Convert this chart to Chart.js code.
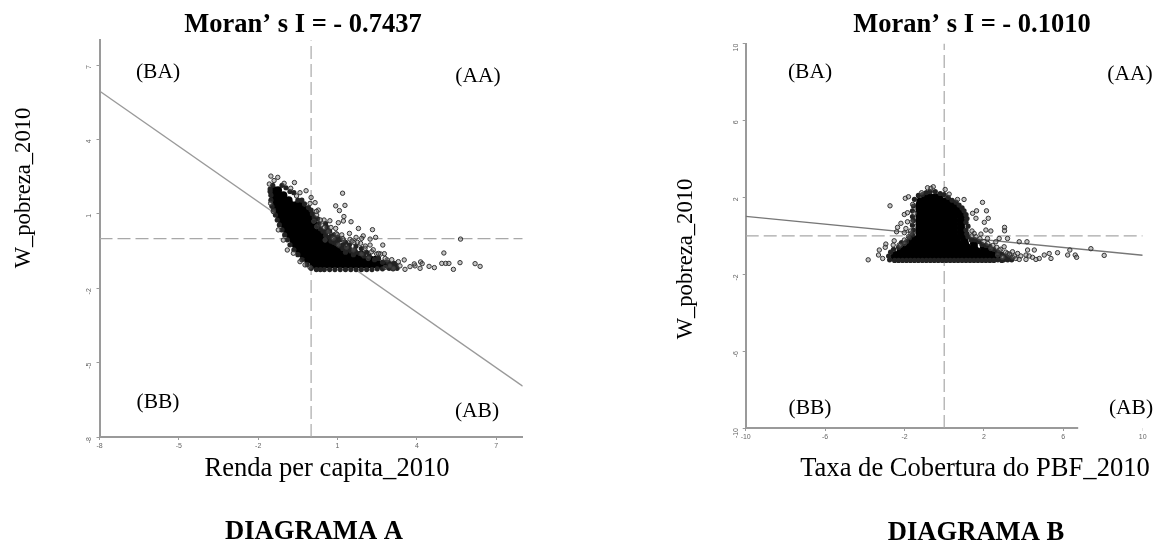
<!DOCTYPE html>
<html>
<head>
<meta charset="utf-8">
<style>
  html, body { margin: 0; padding: 0; background: #fff; }
  canvas { position: absolute; top: 0; }
</style>
</head>
<body>
<canvas id="diagramaA" width="577" height="545" style="left:0"></canvas>
<canvas id="diagramaB" width="578" height="545" style="left:577px"></canvas>
<script src="https://cdn.jsdelivr.net/npm/chart.js@4"></script>
<script>
const ticksA = [-8, -5, -2, 1, 4, 7];
const ticksB = [-10, -6, -2, 2, 6, 10];
const moranA = -0.7437;
const moranB = -0.1010;

// parte densa da nuvem: uma linha por valor de y
const nucleoA_y = [1.95, 1.75, 1.55, 1.35, 1.15, 0.95, 0.75, 0.55, 0.35, 0.15, -0.05, -0.25, -0.45, -0.65, -0.85, -1.05];
const nucleoA_x = [
  [-1.4, -1.25],
  [-1.42, -1.25, -1.05],
  [-1.4, -1.2, -1.0, -0.85],
  [-1.35, -1.15, -0.95, -0.75, -0.55, -0.4],
  [-1.28, -1.08, -0.88, -0.68, -0.48, -0.35, -0.2],
  [-1.2, -1.0, -0.8, -0.6, -0.4, -0.25, -0.1],
  [-1.12, -0.92, -0.72, -0.52, -0.32, -0.15, 0.05],
  [-1.0, -0.8, -0.6, -0.4, -0.2, -0.05, 0.15],
  [-0.92, -0.72, -0.52, -0.32, -0.12, 0.05, 0.25],
  [-0.8, -0.6, -0.4, -0.2, 0, 0.2, 0.4],
  [-0.68, -0.48, -0.28, -0.08, 0.12, 0.32, 0.45, 0.6],
  [-0.58, -0.38, -0.18, 0.02, 0.22, 0.42, 0.62, 0.82],
  [-0.45, -0.25, -0.05, 0.15, 0.35, 0.55, 0.75, 0.95, 1.15, 1.35],
  [-0.3, -0.1, 0.1, 0.3, 0.5, 0.7, 0.9, 1.1, 1.3, 1.5, 1.7, 1.9],
  [-0.12, 0.08, 0.28, 0.48, 0.68, 0.88, 1.08, 1.28, 1.48, 1.68, 1.88, 2.05, 2.25, 2.45],
  [0.1, 0.3, 0.5, 0.7, 0.9, 1.1, 1.3, 1.5, 1.7, 1.9, 2.1, 2.3, 2.5, 2.6, 2.75, 2.9]
];
const franjaA = [
  [-1.1,2.15],[-0.95,2.05],[-0.8,1.9],[-0.65,1.85],[-0.5,1.55],[-0.35,1.55],[-0.25,1.4],[-0.1,1.25],[0,1.15],[0.05,1],
  [0.12,0.85],[0.25,0.8],[0.3,0.6],[0.35,0.4],[0.45,0.3],[0.55,0.12],[0.7,0.05],[0.75,-0.1],[0.85,-0.15],[1,-0.1],
  [1.1,-0.3],[1.2,-0.25],[1.35,-0.45],[1.5,-0.5],[1.7,-0.55],[1.85,-0.6],[2,-0.7],[2.2,-0.7],[2.4,-0.85],[2.55,-0.8],
  [2.7,-0.95],[2.9,-0.95],[3.05,-1.05],[3.2,-1.1],[2.95,-1.2],[3.25,-1.2],
  [-1.55,2],[-1.52,1.75],[-1.52,1.55],[-1.48,1.3],[-1.42,1.15],[-1.35,0.95],[-1.28,0.75],[-1.2,0.55],[-1.1,0.35],[-1,0.15],
  [-0.9,-0.05],[-0.8,-0.25],[-0.65,-0.45],[-0.5,-0.65],[-0.35,-0.85],[-0.15,-1.05],[0,-1.2],[0.2,-1.25],[0.5,-1.25],[0.9,-1.25],
  [1.3,-1.25],[1.7,-1.25],[2.1,-1.25],[2.5,-1.22],
  [0.7,0.3],[0.85,0.15],[0.6,0.45],[0.55,0.6],[1,0.05],[1.1,-0.05],[1.3,-0.15],[1.45,-0.25],[1.7,-0.3],[1.9,-0.4],[2.1,-0.55],[0.9,-0.05],
  [0.35,-1.25],[0.7,-1.25],[1.1,-1.25],[1.5,-1.25],[1.9,-1.25],[2.3,-1.25],[2.7,-1.22],[3.1,-1.22],[3.15,-1],[3,-1.05],
  [0.55,0.25],[0.75,0.1],[0.95,-0.2],[1.2,-0.4],[1.45,-0.4],[1.65,-0.45],[1.3,-0.55],[1.6,-0.65],
  [-1.45,2.15],[-1.55,1.9]
];
const bordaA = [
  [1.19,1.83],[0.93,1.32],[1.28,1.34],[1.07,1.13],[1.24,0.89],[1.03,0.64],[1.22,0.71],[1.51,0.68],[1.79,0.41],[0.93,0.41],
  [2.32,0.36],[1.45,0.21],[0.99,0.16],[1.16,0.15],[1.7,0.05],[1.97,0.11],[1.91,0.01],[2.23,-0.02],[2.44,0.05],[1.47,-0.03],
  [1.22,-0.06],[1.62,-0.16],[1.87,-0.19],[2.23,-0.26],[2.71,-0.26],[2.04,-0.39],[2.29,-0.53],[2.48,-0.62],[2.63,-0.62],[2.77,-0.61],
  [5.65,-0.02],[5.02,-0.58],[4.94,-1],[5.09,-1],[5.21,-1],[5.63,-0.97],[6.2,-1.01],[6.39,-1.12],[5.38,-1.24],[4.66,-1.17],
  [4.46,-1.12],[4.14,-0.94],[4.2,-1.01],[4.12,-1.2],[3.93,-1.1],[3.74,-1.13],[3.52,-0.86],[3.55,-1.24],[3.3,-0.93],[3.36,-1.1],
  [3.11,-1.2],[2.88,-0.86],[2.98,-1.1],[2.8,-1.16],[3.9,-1.02],
  [-1.52,2.52],[-1.26,2.47],[-1.58,2.2],[-1.4,2.34],[-1.02,2.23],[-0.63,2.26],[-0.77,2.03],[-0.42,1.85],[-0.19,1.93],[-0.55,1.72],
  [0,1.66],[0.15,1.45],[-0.04,1.42],[0.27,1.15],[0.21,0.95],[0.49,0.75],[0.71,0.72],[0.4,0.55],[0.65,0.28],[0.21,0.48],
  [0.53,-0.06],[0.84,0.01],[1.03,-0.26],[1.34,-0.35],[1.6,-0.46],[1.91,-0.62],[2.16,-0.8],
  [-1.53,1.42],[-1.43,1.09],[-1.24,0.35],[-1.05,-0.06],[-0.9,-0.46],[-0.67,-0.59],[-0.42,-0.93],[-0.23,-1.06],[-0.04,-1.16],
  [0.2,1.1],[0.1,0.7],[0.35,0.75],[0.5,0.45],[0.75,0.45],[0.95,0.2],[1.2,0],[1.55,-0.1],[1.75,-0.15],[2.05,-0.3],
  [2.35,-0.45],[2.55,-0.6],[2.8,-0.8],[3.05,-0.85]
];

const nucleoB_y = [2.0, 1.8, 1.6, 1.4, 1.2, 1.0, 0.8, 0.6, 0.4, 0.2, 0, -0.2, -0.4, -0.6, -0.8, -1.0, -1.08];
const nucleoB_x = [
  [-0.95, -0.72, -0.45, -0.25],
  [-1.2, -0.95, -0.7, -0.45, -0.2, 0.05, 0.22],
  [-1.25, -1, -0.75, -0.5, -0.25, 0, 0.25, 0.5],
  [-1.25, -1, -0.75, -0.5, -0.25, 0, 0.25, 0.5, 0.7],
  [-1.25, -1, -0.75, -0.5, -0.25, 0, 0.25, 0.5, 0.8],
  [-1.25, -1, -0.75, -0.5, -0.25, 0, 0.25, 0.5, 0.85],
  [-1.25, -1, -0.75, -0.5, -0.25, 0, 0.25, 0.5, 0.85],
  [-1.25, -1, -0.75, -0.5, -0.25, 0, 0.25, 0.5, 0.85],
  [-1.25, -1, -0.75, -0.5, -0.25, 0, 0.25, 0.5, 0.85],
  [-1.25, -1, -0.75, -0.5, -0.25, 0, 0.25, 0.5, 0.85],
  [-1.25, -1, -0.75, -0.5, -0.25, 0, 0.25, 0.5, 0.85],
  [-1.5, -1.2, -0.9, -0.6, -0.3, 0, 0.3, 0.6, 1.0],
  [-1.75, -1.4, -1.05, -0.7, -0.35, 0, 0.35, 0.7, 1.05, 1.5],
  [-2, -1.65, -1.3, -0.95, -0.6, -0.25, 0.1, 0.45, 0.8, 1.15, 1.5, 2],
  [-2.2, -1.85, -1.5, -1.15, -0.8, -0.45, -0.1, 0.25, 0.6, 0.95, 1.3, 1.65, 2, 2.3],
  [-2.45, -2.1, -1.75, -1.4, -1.05, -0.7, -0.35, 0, 0.35, 0.7, 1.05, 1.4, 1.75, 2.1, 2.6],
  [-2.5, -2.15, -1.8, -1.45, -1.1, -0.75, -0.4, -0.05, 0.3, 0.65, 1, 1.35, 1.7, 2.05, 2.4, 2.7]
];
const franjaB = [
  [-1.3,2.1],[-1.1,2.15],[-0.9,2.25],[-0.7,2.3],[-0.45,2.3],[-0.2,2.2],[0,2.15],[0.2,2],[0.4,1.85],[0.6,1.75],
  [0.75,1.6],[0.9,1.45],[1,1.3],[1.1,1.1],[1.15,0.9],[1.1,0.7],[1.2,0.5],[1.1,0.3],[1.15,0.1],[1.2,-0.05],
  [1.35,-0.2],[1.55,-0.2],[1.75,-0.3],[1.9,-0.45],[2.1,-0.5],[2.3,-0.55],[2.5,-0.7],[2.7,-0.85],[2.9,-0.95],[3.1,-1.05],
  [3.3,-1.15],[3,-1.25],[2.7,-1.25],[3.4,-1.25],
  [-1.5,1.9],[-1.55,1.55],[-1.6,1.3],[-1.6,1],[-1.55,0.8],[-1.6,0.55],[-1.55,0.3],[-1.6,0.05],[-1.75,-0.1],[-1.9,-0.3],
  [-2.15,-0.35],[-2.3,-0.6],[-2.55,-0.7],[-2.7,-0.85],[-2.8,-1.05],[-2.75,-1.25],[-2.5,-1.28],[-2.1,-1.28],[-1.7,-1.28],[-1.3,-1.28],
  [-0.9,-1.28],[-0.5,-1.28],[-0.1,-1.28],[0.3,-1.28],[0.7,-1.28],[1.1,-1.28],[1.5,-1.28],[1.9,-1.28],[2.3,-1.28],
  [-2.3,-1.28],[-1.9,-1.28],[-1.5,-1.28],[-1.1,-1.28],[-0.7,-1.28],[-0.3,-1.28],[0.1,-1.28],[0.5,-1.28],[0.9,-1.28],[1.3,-1.28],
  [1.7,-1.28],[2.1,-1.28],[2.5,-1.28],[2.9,-1.28],[3.2,-1.25]
];
const bordaB = [
  [-2.73,1.56],[-1.96,1.95],[-1.8,2.03],[-0.84,2.5],[-0.55,2.55],[-0.67,2.47],[0.05,2.41],[-1.14,2.24],[0.25,2.17],[0.67,1.89],
  [1,1.89],[1.93,1.74],[1.63,1.3],[2.13,1.3],[2.22,0.91],[2.02,0.7],[1.6,0.91],[1.43,1.17],[-1.59,1.63],[-1.51,1.17],
  [-2.01,1.11],[-1.85,1.2],[-2.18,0.65],[-1.85,0.73],[-1.63,0.73],[-2.35,0.44],[-2.4,0.21],[-1.93,0.38],[-2.01,0.16],[-1.68,0.12],
  [-2.94,-0.43],[-2.97,-0.6],[-2.52,-0.26],[-3.27,-0.74],[-3.31,-1],[-3.1,-1.18],[-3.83,-1.25],[-2.57,-0.48],[-2.27,-0.48],[-2.01,-0.22],
  [2.1,0.3],[2.35,0.25],[3.04,0.44],[3.04,0.26],[1.85,0.09],[1.51,0.12],[2.18,-0.14],[2.77,-0.14],[3.19,-0.14],[2.6,-0.31],
  [3.78,-0.31],[4.17,-0.31],[3.02,-0.57],[3.44,-0.83],[3.7,-0.92],[4.2,-0.74],[4.54,-0.74],[3.86,-1.05],[4.12,-1],[4.45,-1.12],
  [4.79,-1.18],[5.04,-1],[5.29,-0.92],[5.38,-1.18],[5.71,-0.88],[6.22,-1],[6.33,-0.74],[6.6,-1],[6.67,-1.12],[7.39,-0.67],
  [8.06,-1.02],[3.61,-1.18],[3.28,-1],[2.94,-1.12],[3.19,-0.92],[2.69,-1],[4.12,-1.23],[4.62,-1.23],[3.44,-1.12],[3.78,-1.23],
  [4.28,-1.05],[2.35,-0.66],[2.77,-0.74],
  [-1.7,0.25],[-1.8,-0.05],[-2,-0.4],[-2.2,-0.5],[1.4,0],[1.4,0.25],[1.6,-0.05],[1.8,-0.15],[2,-0.3],[2.2,-0.4],
  [2.45,-0.5],[2.65,-0.6],[2.85,-0.7],[3.1,-0.85],[3.3,-0.95],[3.55,-1.05]
];

const serif = '"Liberation Serif", "Times New Roman", serif';
const cinza = '#9a9a9a';

// textos soltos, em pixels do canvas
const textosA = [
  { t: "Moran\u2019 s I = - 0.7437", x: 303, y: 25, size: 26.5, bold: true },
  { t: "(BA)", x: 158, y: 72, size: 21.5 },
  { t: "(AA)", x: 478, y: 76, size: 21.5 },
  { t: "(BB)", x: 158, y: 402, size: 21.5 },
  { t: "(AB)", x: 477, y: 411, size: 21.5 },
  { t: "Renda per capita_2010", x: 327, y: 469, size: 26.6 },
  { t: "DIAGRAMA A", x: 314, y: 532, size: 26.6, bold: true },
  { t: "W_pobreza_2010", x: 24, y: 188, size: 22.6, rot: true }
];
const textosB = [
  { t: "Moran\u2019 s I = - 0.1010", x: 395, y: 25, size: 26.5, bold: true },
  { t: "(BA)", x: 233, y: 72, size: 21.5 },
  { t: "(AA)", x: 553, y: 74, size: 21.5 },
  { t: "(BB)", x: 233, y: 408, size: 21.5 },
  { t: "(AB)", x: 554, y: 408, size: 21.5 },
  { t: "Taxa de Cobertura do PBF_2010", x: 398, y: 469, size: 26.6 },
  { t: "DIAGRAMA B", x: 399, y: 533, size: 26.6, bold: true },
  { t: "W_pobreza_2010", x: 109, y: 259, size: 22.6, rot: true }
];

const textosPlugin = {
  id: 'textos',
  afterDraw(chart, args, opts) {
    const c = chart.ctx;
    opts.lista.forEach(item => {
      c.save();
      c.fillStyle = '#000';
      c.font = (item.bold ? 'bold ' : '') + item.size + 'px ' + serif;
      c.textAlign = 'center';
      c.textBaseline = 'middle';
      c.translate(item.x, item.y);
      if (item.rot) c.rotate(-Math.PI / 2);
      c.fillText(item.t, 0, 0);
      c.restore();
    });
  }
};

function linhas(nucleoY, nucleoX) {
  return nucleoY.flatMap((y, i) => nucleoX[i].map(x => ({ x, y })));
}
function pares(lista) {
  return lista.map(p => ({ x: p[0], y: p[1] }));
}
function tracejada(dados) {
  return { data: dados, showLine: true, pointRadius: 0, borderColor: '#a8a8a8', borderWidth: 1.2, borderDash: [13, 5], order: 5 };
}
function eixo(min, max, marcas, extra) {
  return Object.assign({
    type: 'linear', min, max,
    afterBuildTicks: s => { s.ticks = marcas.map(v => ({ value: v })); },
    grid: { drawOnChartArea: false, color: cinza, tickLength: 3, tickWidth: 1 },
    border: { color: cinza, width: 2 },
    ticks: { color: '#666', font: { size: 7, family: 'Liberation Sans' }, padding: 2, autoSkip: false }
  }, extra);
}

function montar(id, cfg) {
  const datasets = [
    { data: pares(cfg.borda), pointRadius: 2.2, pointBackgroundColor: 'rgba(110,110,110,0.4)', pointBorderColor: '#333', pointBorderWidth: 1, order: 0 },
    { data: pares(cfg.franja), pointRadius: 2.6, pointBackgroundColor: '#222', pointBorderWidth: 0, order: 1 },
    { data: linhas(cfg.nucleoY, cfg.nucleoX), pointRadius: 4, pointBackgroundColor: '#000', pointBorderWidth: 0, order: 2 },
    { data: [{ x: -cfg.lim, y: -cfg.moran * cfg.lim }, { x: cfg.lim, y: cfg.moran * cfg.lim }], showLine: true, pointRadius: 0, borderColor: cfg.corReta, borderWidth: 1.4, order: 3 },
    tracejada([{ x: 0, y: cfg.minY }, { x: 0, y: cfg.maxY }]),
    tracejada([{ x: cfg.minX, y: 0 }, { x: cfg.maxX, y: 0 }])
  ];
  if (cfg.fimEixo !== undefined) {
    datasets.push({ data: [{ x: cfg.minX, y: cfg.minY }, { x: cfg.fimEixo, y: cfg.minY }], showLine: true, pointRadius: 0, borderColor: cinza, borderWidth: 2, clip: false, order: 6 });
  }
  return new Chart(document.getElementById(id), {
    type: 'scatter',
    data: { datasets },
    plugins: [textosPlugin],
    options: {
      responsive: false,
      animation: false,
      layout: { padding: cfg.padding },
      plugins: { legend: { display: false }, tooltip: { enabled: false }, title: { display: false }, textos: { lista: cfg.textos } },
      scales: {
        x: eixo(cfg.minX, cfg.maxX, cfg.ticks, {
          afterFit: s => { s.height = 20; },
          border: { color: cinza, width: 2, display: cfg.fimEixo === undefined },
          grid: { drawOnChartArea: false, tickLength: 3, tickColor: c => (cfg.fimEixo !== undefined && c.tick.value > cfg.fimEixo ? '#e4e4e4' : cinza) }
        }),
        y: eixo(cfg.minY, cfg.maxY, cfg.ticks, {
          afterFit: s => { s.width = 30; },
          ticks: { color: '#666', font: { size: 7, family: 'Liberation Sans' }, padding: 7, minRotation: 90, maxRotation: 90, autoSkip: false }
        })
      }
    }
  });
}

montar('diagramaA', {
  borda: bordaA, franja: franjaA, nucleoY: nucleoA_y, nucleoX: nucleoA_x, moran: moranA, lim: 8,
  minX: -8, maxX: 8, minY: -8, maxY: 8, ticks: ticksA, corReta: '#9a9a9a', textos: textosA,
  padding: { left: 69.5, right: 54.3, top: 40.2, bottom: 88 }
});
montar('diagramaB', {
  borda: bordaB, franja: franjaB, nucleoY: nucleoB_y, nucleoX: nucleoB_x, moran: moranB, lim: 10,
  minX: -10, maxX: 10, minY: -10, maxY: 10, ticks: ticksB, corReta: '#777', textos: textosB, fimEixo: 6.75,
  padding: { left: 138.7, right: 12.3, top: 43.6, bottom: 97 }
});
</script>
</body>
</html>
